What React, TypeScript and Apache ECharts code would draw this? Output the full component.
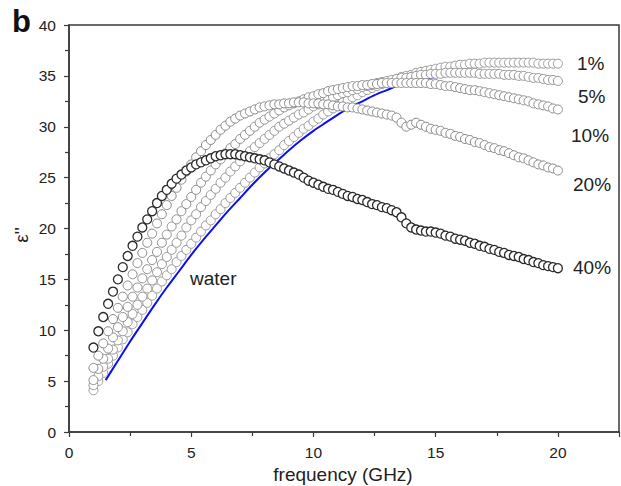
import React, { useEffect, useRef } from "react";
import * as echarts from "echarts";

const freq = [
  1.0, 1.2, 1.4, 1.6, 1.8, 2.0, 2.2, 2.4, 2.6, 2.8,
  3.0, 3.2, 3.4, 3.6, 3.8, 4.0, 4.2, 4.4, 4.6, 4.8,
  5.0, 5.2, 5.4, 5.6, 5.8, 6.0, 6.2, 6.4, 6.6, 6.8,
  7.0, 7.2, 7.4, 7.6, 7.8, 8.0, 8.2, 8.4, 8.6, 8.8,
  9.0, 9.2, 9.4, 9.6, 9.8, 10.0, 10.2, 10.4, 10.6, 10.8,
  11.0, 11.2, 11.4, 11.6, 11.8, 12.0, 12.2, 12.4, 12.6, 12.8,
  13.0, 13.2, 13.4, 13.6, 13.8, 14.0, 14.2, 14.4, 14.6, 14.8,
  15.0, 15.2, 15.4, 15.6, 15.8, 16.0, 16.2, 16.4, 16.6, 16.8,
  17.0, 17.2, 17.4, 17.6, 17.8, 18.0, 18.2, 18.4, 18.6, 18.8,
  19.0, 19.2, 19.4, 19.6, 19.8, 20.0,
];

const eps1 = [
  4.1, 5.0, 5.8, 6.7, 7.5, 8.3, 9.1, 9.8, 10.6, 11.3,
  12.0, 12.7, 13.4, 14.1, 14.8, 15.4, 16.0, 16.7, 17.3, 17.9,
  18.5, 19.1, 19.7, 20.3, 20.8, 21.4, 21.9, 22.5, 23.0, 23.5,
  24.0, 24.5, 25.0, 25.5, 26.0, 26.4, 26.9, 27.3, 27.7, 28.2,
  28.6, 29.0, 29.4, 29.8, 30.1, 30.5, 30.8, 31.2, 31.5, 31.8,
  32.1, 32.4, 32.6, 32.9, 33.1, 33.4, 33.6, 33.8, 34.0, 34.2,
  34.4, 34.5, 34.7, 34.9, 35.0, 35.1, 35.3, 35.4, 35.5, 35.6,
  35.7, 35.8, 35.9, 35.9, 36.0, 36.1, 36.1, 36.2, 36.2, 36.2,
  36.3, 36.3, 36.3, 36.3, 36.3, 36.3, 36.3, 36.3, 36.3, 36.3,
  36.3, 36.2, 36.2, 36.2, 36.2, 36.2,
];

const eps5 = [
  4.6, 5.5, 6.4, 7.2, 8.1, 9.0, 9.9, 10.8, 11.6, 12.5,
  13.3, 14.1, 14.9, 15.7, 16.5, 17.2, 17.9, 18.6, 19.3, 20.1,
  20.8, 21.4, 22.1, 22.7, 23.3, 23.9, 24.5, 25.0, 25.6, 26.1,
  26.6, 27.1, 27.6, 28.0, 28.4, 28.8, 29.2, 29.6, 30.0, 30.3,
  30.6, 30.9, 31.2, 31.4, 31.7, 32.0, 32.2, 32.5, 32.7, 32.9,
  33.1, 33.3, 33.4, 33.6, 33.7, 33.9, 34.0, 34.1, 34.3, 34.4,
  34.5, 34.6, 34.7, 34.8, 34.8, 34.9, 35.0, 35.1, 35.1, 35.2,
  35.2, 35.2, 35.3, 35.3, 35.3, 35.3, 35.3, 35.3, 35.3, 35.2,
  35.2, 35.2, 35.2, 35.2, 35.1, 35.1, 35.1, 35.0, 35.0, 34.9,
  34.8, 34.8, 34.7, 34.6, 34.6, 34.5,
];

const eps10 = [
  5.1, 6.2, 7.2, 8.2, 9.3, 10.3, 11.3, 12.3, 13.3, 14.2,
  15.1, 16.0, 16.9, 17.7, 18.6, 19.4, 20.2, 20.9, 21.7, 22.4,
  23.1, 23.8, 24.5, 25.1, 25.7, 26.3, 26.8, 27.4, 27.9, 28.3,
  28.8, 29.2, 29.6, 30.0, 30.4, 30.7, 31.0, 31.3, 31.6, 31.9,
  32.1, 32.3, 32.5, 32.7, 32.9, 33.0, 33.2, 33.3, 33.5, 33.6,
  33.7, 33.8, 33.9, 34.0, 34.0, 34.1, 34.1, 34.2, 34.2, 34.3,
  34.3, 34.3, 34.3, 34.3, 34.3, 34.3, 34.3, 34.3, 34.3, 34.2,
  34.2, 34.1, 34.0, 34.0, 33.9, 33.8, 33.7, 33.6, 33.6, 33.5,
  33.4, 33.3, 33.2, 33.1, 33.0, 32.9, 32.8, 32.7, 32.6, 32.5,
  32.3, 32.2, 32.1, 32.0, 31.8, 31.7,
];

const eps20 = [
  6.3, 7.5, 8.7, 9.9, 11.1, 12.2, 13.3, 14.4, 15.5, 16.6,
  17.6, 18.6, 19.5, 20.5, 21.4, 22.3, 23.2, 24.0, 24.8, 25.6,
  26.3, 27.0, 27.6, 28.2, 28.7, 29.2, 29.7, 30.1, 30.5, 30.8,
  31.1, 31.3, 31.5, 31.7, 31.9, 32.0, 32.1, 32.2, 32.2, 32.3,
  32.3, 32.4, 32.4, 32.4, 32.3, 32.3, 32.3, 32.2, 32.2, 32.1,
  32.0, 32.0, 31.9, 31.9, 31.8, 31.7, 31.6, 31.5, 31.4, 31.3,
  31.2, 31.1, 30.9, 30.4, 30.0, 30.2, 30.4, 30.2, 30.0, 29.8,
  29.7, 29.6, 29.4, 29.3, 29.1, 29.0, 28.8, 28.7, 28.5, 28.4,
  28.2, 28.0, 27.9, 27.7, 27.6, 27.4, 27.2, 27.0, 26.9, 26.7,
  26.5, 26.3, 26.2, 26.0, 25.9, 25.7,
];

const eps40 = [
  8.3, 9.9, 11.3, 12.6, 13.8, 15.0, 16.2, 17.3, 18.3, 19.2,
  20.1, 20.9, 21.7, 22.5, 23.2, 23.8, 24.4, 24.9, 25.3, 25.7,
  26.0, 26.3, 26.5, 26.7, 26.9, 27.1, 27.2, 27.3, 27.3, 27.3,
  27.2, 27.1, 27.0, 26.9, 26.8, 26.7, 26.5, 26.3, 26.1, 25.9,
  25.7, 25.5, 25.3, 25.0, 24.7, 24.5, 24.3, 24.1, 23.9, 23.8,
  23.6, 23.4, 23.2, 23.1, 22.9, 22.8, 22.6, 22.4, 22.3, 22.1,
  22.0, 21.8, 21.6, 21.1, 20.5, 20.1, 19.9, 19.8, 19.7, 19.7,
  19.6, 19.5, 19.3, 19.2, 19.0, 18.9, 18.8, 18.6, 18.5, 18.3,
  18.2, 18.0, 17.9, 17.7, 17.6, 17.4, 17.3, 17.2, 17.0, 16.9,
  16.7, 16.6, 16.4, 16.3, 16.2, 16.1,
];

const waterFreq = [
  1.5, 2.0, 2.5, 3.0, 3.5, 4.0, 4.5, 5.0, 5.5,
  6.0, 6.5, 7.0, 7.5, 8.0, 8.5, 9.0, 9.5, 10.0, 10.5,
  11.0, 11.5, 12.0, 12.5, 13.0, 13.5, 14.0, 14.5, 15.0, 15.5,
  16.0, 16.5, 17.0, 17.5, 18.0, 18.5, 19.0, 19.5, 20.0,
];
const water = [
  5.1, 7.0, 8.9, 10.7, 12.5, 14.2, 15.8, 17.4, 18.9,
  20.3, 21.7, 23.0, 24.3, 25.5, 26.6, 27.7, 28.7, 29.6, 30.4,
  31.2, 31.9, 32.5, 33.1, 33.6, 34.1, 34.4, 34.7, 34.9, 35.0,
  35.1, 35.2, 35.2, 35.2, 35.2, 35.1, 34.9, 34.8, 34.6,
];

const seriesNames = ["1%", "5%", "10%", "20%", "40%"];
const seriesValues = [eps1, eps5, eps10, eps20, eps40];
const seriesColors = ["#9a9a9a", "#959595", "#8e8e8e", "#888888", "#2a2a2a"];

const endLabels = [
  { text: "1%", x: 577, y: 63 },
  { text: "5%", x: 578, y: 96 },
  { text: "10%", x: 571, y: 135 },
  { text: "20%", x: 573, y: 184 },
  { text: "40%", x: 573, y: 267 },
];

const FONT = "'Liberation Sans', Arial, sans-serif";

export default function App() {
  const ref = useRef<HTMLDivElement>(null);

  useEffect(() => {
    if (!ref.current) return;
    const chart = echarts.init(ref.current, undefined, { renderer: "svg" });

    const scatterSeries = seriesValues.map((vals, i) => ({
      name: seriesNames[i],
      type: "scatter",
      symbol: "circle",
      symbolSize: 9,
      data: freq.map((f, j) => [f, vals[j]]),
      itemStyle: {
        color: "#ffffff",
        borderColor: seriesColors[i],
        borderWidth: i === 4 ? 1.3 : 1,
        opacity: 1,
      },
      emphasis: { disabled: true },
      z: i === 4 ? 4 : 3,
    }));

    chart.setOption({
      animation: false,
      backgroundColor: "#ffffff",
      grid: {
        left: 69,
        right: 2,
        top: 25,
        bottom: 54,
        outerBoundsMode: "none",
        containLabel: false,
        show: true,
        borderColor: "#3a3a3a",
        borderWidth: 1.5,
        backgroundColor: "transparent",
      },
      xAxis: {
        type: "value",
        min: 0,
        max: 22.5,
        interval: 5,
        axisLine: { show: true, onZero: false, lineStyle: { color: "#3a3a3a", width: 1.5 } },
        axisTick: { show: true, inside: false, length: 5, lineStyle: { color: "#3a3a3a", width: 1.2 } },
        minorTick: { show: true, splitNumber: 2, length: 4, lineStyle: { color: "#3a3a3a", width: 1.2 } },
        axisLabel: { fontSize: 15.5, color: "#222", fontFamily: FONT, margin: 12, showMaxLabel: false },
        splitLine: { show: false },
      },
      yAxis: {
        type: "value",
        min: 0,
        max: 40,
        interval: 5,
        axisLine: { show: true, onZero: false, lineStyle: { color: "#3a3a3a", width: 1.5 } },
        axisTick: { show: true, inside: false, length: 5, lineStyle: { color: "#3a3a3a", width: 1.2 } },
        minorTick: { show: true, splitNumber: 2, length: 4, lineStyle: { color: "#3a3a3a", width: 1.2 } },
        axisLabel: { fontSize: 15.5, color: "#222", fontFamily: FONT, margin: 13 },
        splitLine: { show: false },
      },
      series: [
        {
          name: "water",
          type: "line",
          data: waterFreq.map((f, j) => [f, water[j]]),
          showSymbol: false,
          smooth: 0.3,
          lineStyle: { color: "#0a10f0", width: 2 },
          emphasis: { disabled: true },
          z: 2,
        },
        ...scatterSeries,
      ],
      graphic: [
        {
          type: "text",
          x: 12,
          y: 21,
          style: {
            text: "b",
            fontSize: 31,
            fontWeight: "bold",
            fill: "#111",
            fontFamily: FONT,
            verticalAlign: "middle",
          },
        },
        {
          type: "text",
          x: 21,
          y: 235,
          rotation: Math.PI / 2,
          style: {
            text: "ε''",
            fontSize: 19,
            fill: "#222",
            fontFamily: FONT,
            align: "center",
            verticalAlign: "middle",
          },
        },
        {
          type: "text",
          x: 343,
          y: 474,
          style: {
            text: "frequency (GHz)",
            fontSize: 19,
            fill: "#222",
            fontFamily: FONT,
            align: "center",
            verticalAlign: "middle",
          },
        },
        {
          type: "text",
          x: 190,
          y: 278,
          style: { text: "water", fontSize: 19, fill: "#222", fontFamily: FONT, verticalAlign: "middle" },
        },
        ...endLabels.map((l) => ({
          type: "text",
          x: l.x,
          y: l.y,
          style: { text: l.text, fontSize: 19, fill: "#222", fontFamily: FONT, verticalAlign: "middle" },
        })),
      ],
    });

    return () => chart.dispose();
  }, []);

  return (
    <div
      ref={ref}
      style={{ position: "fixed", left: 0, top: 0, width: 621, height: 486, background: "#fff" }}
    />
  );
}
